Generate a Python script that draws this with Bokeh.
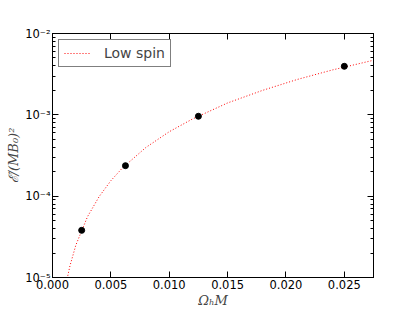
from bokeh.plotting import figure
from bokeh.models import LogAxis, LinearAxis, FixedTicker, Legend, LegendItem, Range1d, LogTicker
from bokeh.embed import file_html
from bokeh.resources import INLINE

# data points
omega = [0.0025, 0.00625, 0.0125, 0.025]
edot = [3.8e-5, 2.37e-4, 9.6e-4, 3.95e-3]

# fitted curve
curve_x = [0.0012, 0.0015, 0.002, 0.003, 0.004, 0.005, 0.006, 0.008, 0.010,
           0.012, 0.015, 0.018, 0.021, 0.024, 0.0275]
curve_y = [8.9e-6, 1.4e-5, 2.5e-5, 5.6e-5, 9.9e-5, 1.55e-4, 2.23e-4, 3.97e-4,
           6.2e-4, 8.9e-4, 1.40e-3, 2.0e-3, 2.73e-3, 3.57e-3, 4.69e-3]

x_ticks = [0.0, 0.005, 0.010, 0.015, 0.020, 0.025]
x_labels = ["0.000", "0.005", "0.010", "0.015", "0.020", "0.025"]
y_ticks = [1e-5, 1e-4, 1e-3, 1e-2]
y_labels = ["10⁻⁵", "10⁻⁴", "10⁻³", "10⁻²"]

p = figure(width=405, height=310, y_axis_type="log", output_backend="svg",
           toolbar_location=None, x_range=Range1d(0, 0.0275),
           y_range=Range1d(1e-5, 1e-2),
           min_border_left=52, min_border_right=32, min_border_top=33,
           min_border_bottom=28)
p.grid.visible = False
p.outline_line_color = "black"
p.outline_line_width = 1
p.background_fill_color = "white"
p.border_fill_color = "white"

for ax in p.xaxis:
    ax.ticker = FixedTicker(ticks=x_ticks)
    ax.major_label_overrides = {t: l for t, l in zip(x_ticks, x_labels)}
    ax.axis_label = "ΩₕM"
for ax in p.yaxis:
    ax.ticker = LogTicker(num_minor_ticks=10)
    ax.major_label_overrides = {t: l for t, l in zip(y_ticks, y_labels)}
    ax.axis_label = "ℰ̇/(MB₀)²"

for ax in list(p.xaxis) + list(p.yaxis):
    ax.axis_line_color = "black"
    ax.major_tick_in = 6
    ax.major_tick_out = 0
    ax.minor_tick_in = 3
    ax.minor_tick_out = 0
    ax.major_label_text_font = "DejaVu Sans"
    ax.major_label_text_font_size = "11.5px"
    ax.major_label_text_color = "black"
    ax.axis_label_text_font = "DejaVu Serif"
    ax.axis_label_text_font_style = "italic"
    ax.axis_label_text_font_size = "13px"
    ax.axis_label_standoff = 1
    ax.major_label_standoff = 2
p.xaxis.minor_tick_line_color = None

# mirror axes (ticks inside, no labels)
top = LinearAxis(ticker=FixedTicker(ticks=x_ticks),
                 major_label_overrides={t: "" for t in x_ticks},
                 major_tick_in=6, major_tick_out=0, minor_tick_line_color=None,
                 axis_line_color="black", major_label_standoff=0)
right = LogAxis(ticker=LogTicker(num_minor_ticks=10),
                major_label_overrides={t: "" for t in y_ticks},
                major_tick_in=6, major_tick_out=0, minor_tick_in=3, minor_tick_out=0,
                axis_line_color="black", major_label_standoff=0)
p.add_layout(top, "above")
p.add_layout(right, "right")

line = p.line(curve_x, curve_y, line_color="red", line_dash="1 2", line_width=1)
p.scatter(omega, edot, size=6, fill_color="black", line_color="black")

legend = Legend(items=[LegendItem(label="Low spin", renderers=[line])],
                location="top_left", border_line_color="black", border_line_width=1,
                label_text_font="DejaVu Sans", label_text_font_size="14px",
                glyph_width=26, glyph_height=12, label_height=12,
                label_standoff=14, padding=5, margin=6, spacing=0,
                background_fill_alpha=1)
p.add_layout(legend)

open("out.html", "w").write(file_html(p, INLINE))
